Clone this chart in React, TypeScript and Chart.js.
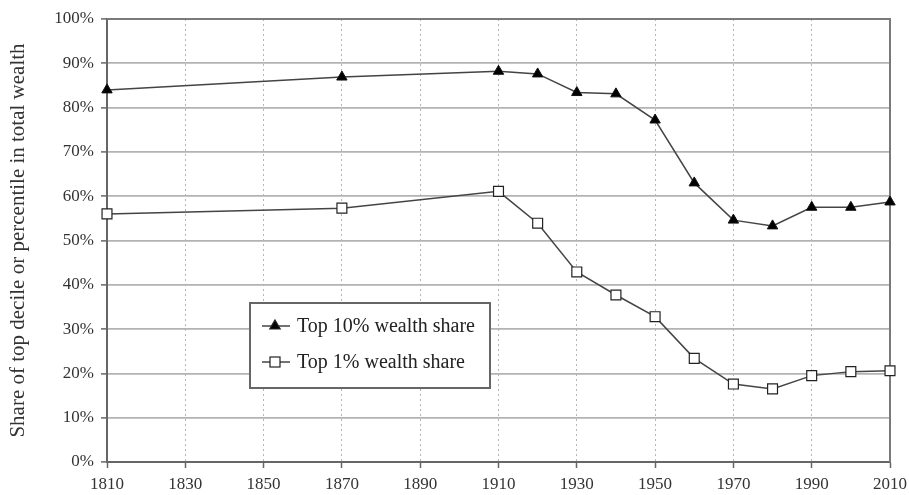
import React, { useEffect, useRef } from "react";
import { Chart, registerables } from "chart.js";

Chart.register(...registerables);

const years = [1810, 1870, 1910, 1920, 1930, 1940, 1950, 1960, 1970, 1980, 1990, 2000, 2010];
const top10 = [84.0, 86.9, 88.2, 87.6, 83.4, 83.1, 77.2, 63.0, 54.6, 53.3, 57.5, 57.5, 58.7];
const top1 = [56.0, 57.3, 61.1, 53.9, 42.9, 37.7, 32.8, 23.4, 17.6, 16.5, 19.5, 20.4, 20.6];
const seriesLabels = ["Top 10% wealth share", "Top 1% wealth share"];
const yTitle = "Share of top decile or percentile in total wealth";

const FONT = "'Liberation Serif', 'DejaVu Serif', serif";

const frameAndLegend = {
  id: "frameAndLegend",
  beforeDatasetsDraw(chart: any) {
    const { ctx, chartArea } = chart;
    ctx.save();
    ctx.strokeStyle = "#7a7a7a";
    ctx.lineWidth = 2;
    ctx.beginPath();
    ctx.moveTo(chartArea.left, chartArea.top);
    ctx.lineTo(chartArea.right, chartArea.top);
    ctx.lineTo(chartArea.right, chartArea.bottom);
    ctx.stroke();
    ctx.restore();
  },
  afterDraw(chart: any) {
    const { ctx } = chart;
    ctx.save();
    const bx = 250, by = 303, bw = 240, bh = 85;
    ctx.fillStyle = "#ffffff";
    ctx.fillRect(bx, by, bw, bh);
    ctx.strokeStyle = "#666";
    ctx.lineWidth = 2;
    ctx.strokeRect(bx, by, bw, bh);

    const rows = [
      { y: 326, style: "triangle", fill: "#000", label: seriesLabels[0] },
      { y: 362, style: "rect", fill: "#fff", label: seriesLabels[1] },
    ];
    rows.forEach((r) => {
      ctx.strokeStyle = "#444";
      ctx.lineWidth = 1.5;
      ctx.beginPath();
      ctx.moveTo(262, r.y);
      ctx.lineTo(290, r.y);
      ctx.stroke();
      ctx.fillStyle = r.fill;
      ctx.strokeStyle = "#222";
      ctx.lineWidth = 1.2;
      if (r.style === "triangle") {
        const rad = 6;
        ctx.beginPath();
        ctx.moveTo(275, r.y - rad);
        ctx.lineTo(275 + rad * 0.866, r.y + rad * 0.5);
        ctx.lineTo(275 - rad * 0.866, r.y + rad * 0.5);
        ctx.closePath();
        ctx.fill();
        ctx.stroke();
      } else {
        ctx.fillRect(270, r.y - 5, 10, 10);
        ctx.strokeRect(270, r.y - 5, 10, 10);
      }
      ctx.fillStyle = "#222";
      ctx.font = `20px ${FONT}`;
      ctx.textBaseline = "middle";
      ctx.textAlign = "left";
      ctx.fillText(r.label, 297, r.y + 1);
    });
    ctx.restore();
  },
};

export default function App() {
  const ref = useRef<HTMLCanvasElement | null>(null);
  useEffect(() => {
    if (!ref.current) return;
    const chart = new Chart(ref.current, {
      type: "line",
      data: {
        datasets: [
          {
            label: seriesLabels[0],
            data: years.map((x, i) => ({ x, y: top10[i] })),
            borderColor: "#444",
            borderWidth: 1.5,
            pointStyle: "triangle",
            pointRadius: 6,
            pointBackgroundColor: "#000",
            pointBorderColor: "#111",
            pointBorderWidth: 1,
            tension: 0,
            clip: false,
          },
          {
            label: seriesLabels[1],
            data: years.map((x, i) => ({ x, y: top1[i] })),
            borderColor: "#444",
            borderWidth: 1.5,
            pointStyle: "rect",
            pointRadius: 7,
            pointBackgroundColor: "#fff",
            pointBorderColor: "#222",
            pointBorderWidth: 1.2,
            tension: 0,
            clip: false,
          },
        ],
      },
      options: {
        responsive: false,
        animation: false,
        layout: { padding: { top: 19, right: 19, left: 0, bottom: 0 } },
        plugins: {
          legend: { display: false },
          tooltip: { enabled: false },
        },
        scales: {
          x: {
            type: "linear",
            min: 1810,
            max: 2010,
            ticks: {
              stepSize: 20,
              color: "#333",
              font: { family: FONT, size: 17 },
              padding: 6,
              callback: (v: any) => String(v),
            },
            grid: {
              color: "#b5b5b5",
              lineWidth: 1,
              tickLength: 6,
              tickColor: "#666",
              tickWidth: 1.5,
            },
            border: { display: true, color: "#666", width: 2, dash: [2, 3] },
            afterFit: (s: any) => {
              s.height = 33;
              s.paddingRight = 0;
              s.paddingLeft = 0;
            },
          },
          y: {
            min: 0,
            max: 100,
            ticks: {
              stepSize: 10,
              color: "#333",
              font: { family: FONT, size: 17 },
              padding: 7,
              callback: (v: any) => v + "%",
            },
            grid: {
              color: "#b3b3b3",
              lineWidth: 1.8,
              tickLength: 6,
              tickColor: "#666",
              tickWidth: 1.5,
            },
            border: { display: true, color: "#666", width: 2 },
            title: {
              display: true,
              text: yTitle,
              color: "#333",
              font: { family: FONT, size: 21 },
              padding: { top: 6, bottom: 0 },
            },
            afterFit: (s: any) => {
              s.width = 107;
              s.paddingTop = 0;
              s.paddingBottom = 0;
            },
          },
        },
      },
      plugins: [frameAndLegend],
    } as any);
    return () => chart.destroy();
  }, []);
  return (
    <div style={{ position: "fixed", left: 0, top: 0, width: 909, height: 495, background: "#fff" }}>
      <canvas ref={ref} width={909} height={495} style={{ display: "block" }} />
    </div>
  );
}
